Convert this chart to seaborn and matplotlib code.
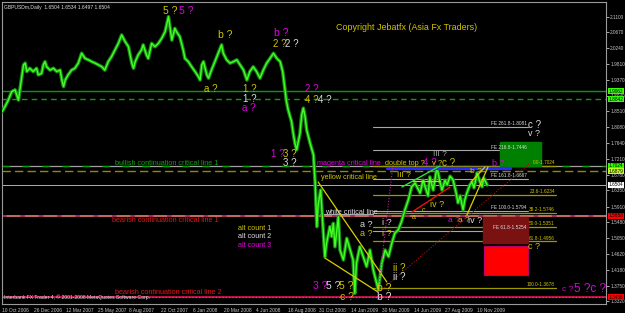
import pandas as pd
import matplotlib
matplotlib.use("Agg")
import matplotlib.pyplot as plt
import matplotlib.transforms as mtrans
from matplotlib.patches import Rectangle
import seaborn as sns

# ---------------- data ----------------
# calendar days after 10 Oct 2006 and GBPUSD price read at that point
price_day = [
    0, 7, 15, 23, 31, 35, 39, 43, 51, 55, 59, 66, 74, 82, 86, 94, 98, 102, 106, 114,
    122, 130, 138, 142, 146, 150, 157, 165, 173, 181, 189, 197, 205, 213, 221, 229, 237, 244, 252, 260,
    268, 276, 284, 292, 300, 308, 312, 316, 323, 331, 335, 343, 347, 355, 363, 371, 379, 387, 395, 399,
    403, 410, 414, 422, 426, 430, 434, 442, 450, 458, 466, 470, 474, 478, 486, 490, 497, 505, 513, 521,
    525, 533, 541, 549, 557, 565, 573, 581, 588, 596, 604, 612, 620, 628, 636, 644, 652, 660, 666, 671,
    675, 679, 687, 691, 695, 699, 707, 711, 715, 719, 723, 731, 739, 743, 747, 750, 756, 759, 766, 770,
    778, 782, 786, 790, 798, 802, 810, 818, 826, 833, 837, 841, 849, 857, 865, 873, 881, 889, 893, 901,
    909, 917, 925, 932, 940, 948, 956, 964, 972, 980, 992, 999, 1004, 1011, 1015, 1023, 1027, 1032, 1039, 1044,
    1051, 1056, 1063, 1070, 1077, 1082, 1087, 1094, 1098, 1103, 1110, 1115, 1120, 1127, 1134, 1139, 1143, 1151,
]
price_close = [
    1.850, 1.864, 1.882, 1.905, 1.910, 1.896, 1.882, 1.914, 1.978, 1.983, 1.960, 1.969, 1.960, 1.969, 1.951, 1.955, 1.978, 1.987, 1.973, 1.964,
    1.969, 1.960, 1.964, 1.937, 1.919, 1.937, 1.951, 1.964, 1.969, 1.983, 2.010, 1.996, 1.992, 1.987, 1.983, 1.978, 1.973, 1.964, 1.987, 2.001,
    2.019, 2.037, 2.060, 2.042, 2.028, 1.983, 1.969, 1.987, 2.005, 2.019, 2.033, 2.005, 1.996, 2.037, 2.028, 2.037, 2.051, 2.069, 2.110, 2.078,
    2.046, 2.078, 2.069, 2.055, 2.037, 2.019, 1.996, 1.987, 1.973, 1.960, 1.946, 1.937, 1.978, 1.987, 1.951, 1.942, 1.964, 1.987, 2.010, 2.033,
    2.010, 1.992, 1.983, 1.987, 1.992, 1.978, 1.964, 1.937, 1.960, 1.973, 1.960, 1.942, 1.964, 1.983, 1.996, 2.010, 1.996, 1.987, 1.960, 1.914,
    1.878, 1.855, 1.823, 1.791, 1.764, 1.746, 1.791, 1.841, 1.860, 1.837, 1.800, 1.764, 1.732, 1.655, 1.536, 1.595, 1.636, 1.582, 1.454, 1.491,
    1.536, 1.509, 1.545, 1.481, 1.563, 1.472, 1.445, 1.504, 1.472, 1.445, 1.354, 1.436, 1.481, 1.454, 1.427, 1.472, 1.417, 1.381, 1.363, 1.436,
    1.472, 1.454, 1.491, 1.518, 1.527, 1.550, 1.582, 1.609, 1.645, 1.655, 1.628, 1.663, 1.645, 1.620, 1.672, 1.636, 1.663, 1.699, 1.658, 1.636,
    1.663, 1.650, 1.674, 1.664, 1.631, 1.601, 1.620, 1.582, 1.609, 1.628, 1.650, 1.658, 1.642, 1.683, 1.658, 1.645, 1.669, 1.650,
]

date_ticks = ["2006-10-10", "2006-12-26", "2007-03-12", "2007-05-25", "2007-08-08",
              "2007-10-22", "2008-01-06", "2008-03-20", "2008-06-04", "2008-08-18",
              "2008-10-31", "2009-01-14", "2009-03-30", "2009-06-14", "2009-08-27",
              "2009-11-10"]
date_tick_labels = ["10 Oct 2006", "26 Dec 2006", "12 Mar 2007", "25 May 2007", "8 Aug 2007",
                    "22 Oct 2007", "6 Jan 2008", "20 Mar 2008", "4 Jun 2008", "18 Aug 2008",
                    "31 Oct 2008", "14 Jan 2009", "30 Mar 2009", "14 Jun 2009", "27 Aug 2009",
                    "10 Nov 2009"]
price_ticks = [2.1100, 2.0670, 2.0240, 1.9810, 1.9370, 1.8940, 1.8510, 1.8080, 1.7640,
               1.7210, 1.6780, 1.6350, 1.5910, 1.5480, 1.5050, 1.4620, 1.4180, 1.3750, 1.3320]

green_level = 1.9062
green_dash_level = 1.8842
bull_level = 1.7024
yellow_level = 1.6879
last_price = 1.6504
bear_level_1 = 1.5658
bear_level_2 = 1.3436

fe_levels = [1.8081, 1.7446, 1.6667, 1.5794, 1.5254]
fe_labels = ["FE 261.8-1.8081", "FE 216.8-1.7446", "FE 161.8-1.6667", "FE 100.0-1.5794", "FE 61.8-1.5254"]
fib_levels = [1.7024, 1.6234, 1.5746, 1.5351, 1.4956, 1.3678]
fib_labels = ["0.0-1.7024", "23.6-1.6234", "38.2-1.5746", "50.0-1.5351", "61.8-1.4956", "100.0-1.3678"]

# ---------------- setup ----------------
T0 = pd.Timestamp("2006-10-10")
def days(s):
    return (pd.Timestamp(s) - T0).days

df = pd.DataFrame({"day": price_day, "price": price_close})

sns.set_style("dark")
plt.rcParams["font.family"] = ["Liberation Sans", "DejaVu Sans"]

YEL = "#d2c400"
WHT = "#dcdcdc"
MAG = "#e000e0"
GRY = "#a8a8a8"
OLV = "#9a9a00"

fig = plt.figure(figsize=(6.25, 3.13), dpi=100, facecolor="black")
ax = fig.add_axes([2 / 625, 9 / 313, 604 / 625, 302 / 313])
ax.set_facecolor("black")
ax.set_xlim(0, 1433)
ax.set_ylim(1.3245, 2.1502)
ax.grid(False)

# full width horizontal levels
ax.axhline(green_level, color="#00a000", lw=1.0, zorder=1)
ax.axhline(green_dash_level, color="#109a10", lw=1.0, ls=(0, (4, 3)), zorder=1)
ax.axhline(bull_level, color="#a0a0a0", lw=0.9, zorder=1)
ax.axhline(bull_level, color="#00a000", lw=0.9, ls=(0, (6, 10)), zorder=1)
ax.axhline(yellow_level, color="#8c8c00", lw=1.0, ls=(0, (6, 3)), zorder=1)
ax.axhline(last_price, color="#b0b0b0", lw=0.7, zorder=1)
ax.axhline(bear_level_1, color="#ff8877", lw=1.1, zorder=1)
ax.axhline(bear_level_1, color="#a0106a", lw=1.1, ls=(0, (3, 9)), zorder=1)
ax.axhline(bear_level_2, color="#c01040", lw=1.4, zorder=1)
ax.axhline(bear_level_2, color="#e040e0", lw=0.8, ls=(0, (1, 2)), zorder=1)

# fibonacci expansion and retracement lines
for lv, lb in zip(fe_levels, fe_labels):
    ax.plot([880, 1248], [lv, lv], color=GRY, lw=0.8, zorder=2)
    ax.text(1245, lv + 0.002, lb, color=WHT, fontsize=3.4, ha="right", va="bottom", zorder=6)
for lv, lb in zip(fib_levels, fib_labels):
    ax.plot([880, 1314], [lv, lv], color=OLV, lw=0.9, zorder=2)
    ax.text(1312, lv + 0.002, lb, color=YEL, fontsize=3.4, ha="right", va="bottom", zorder=6)
ax.plot([754, 880], [1.5700, 1.5700], color=GRY, lw=0.8, zorder=2)

# target boxes
ax.add_patch(Rectangle((1181, 1.7024), 98, 0.0651, color="#008000", zorder=3))
ax.add_patch(Rectangle((1141, 1.4913), 107, 0.0711, color="#7a1212", zorder=3))
ax.add_patch(Rectangle((1143, 1.4038), 105, 0.0793, facecolor="#ff0000", edgecolor="#c00060", lw=0.8, zorder=3))

# price series
sns.lineplot(data=df, x="day", y="price", ax=ax, color="#168c16", lw=2.6, zorder=4, estimator=None, sort=False)
sns.lineplot(data=df, x="day", y="price", ax=ax, color="#44ff22", lw=1.0, zorder=5, estimator=None, sort=False)

# trend lines
ax.plot([913, 1205], [1.6955, 1.6955], color="#2a2aff", lw=2.4, zorder=6)
ax.plot([750, 913], [1.6581, 1.3847], color="#d8d000", lw=0.9, zorder=6)
ax.plot([766, 892], [1.4503, 1.3573], color="#d8d000", lw=0.9, zorder=6)
ax.plot([949, 1039], [1.6444, 1.7018], color="#30e030", lw=1.0, zorder=6)
ax.plot([975, 1039], [1.6608, 1.6608], color="#d8d000", lw=0.9, zorder=6)
ax.plot([973, 1063], [1.5760, 1.6444], color="#ee1010", lw=1.0, zorder=6)
ax.plot([1103, 1153], [1.5679, 1.6991], color="#d8d000", lw=0.9, zorder=6)
ax.plot([1113, 1146], [1.6581, 1.6991], color="#d8d000", lw=0.9, zorder=6)
ax.plot([892, 1253], [1.3546, 1.7100], color="#b01010", lw=0.8, ls=(0, (1, 1.5)), zorder=6)
ax.plot([892, 928], [1.3546, 1.7100], color="#c020a0", lw=0.8, ls=(0, (1, 1.5)), zorder=6)

# wave labels
labels = [
    (382, 2.1256, "5 ?", YEL, 7.5), (420, 2.1256, "5 ?", MAG, 7.5),
    (512, 2.0600, "b ?", YEL, 7.5), (645, 2.0654, "b ?", MAG, 7.5),
    (643, 2.0354, "2 ?", YEL, 7.0), (671, 2.0354, "2 ?", WHT, 7.0),
    (479, 1.9123, "a ?", YEL, 7.0), (572, 1.9123, "1 ?", YEL, 7.0),
    (572, 1.8850, "1 ?", WHT, 7.0), (569, 1.8604, "a ?", MAG, 7.0),
    (719, 1.9123, "2 ?", MAG, 7.0), (719, 1.8823, "4 ?", YEL, 7.0),
    (750, 1.8823, "4 ?", WHT, 7.0),
    (638, 1.7346, "1 ?", MAG, 7.0), (667, 1.7346, "3 ?", YEL, 7.0),
    (667, 1.7100, "3 ?", WHT, 7.0),
    (1248, 1.8139, "c ?", WHT, 7.0), (1248, 1.7893, "v ?", WHT, 6.5),
    (1023, 1.7346, "III ?", GRY, 6.0),
    (999, 1.7100, "4 ?", MAG, 7.0), (1021, 1.7100, "v ?", YEL, 5.5),
    (1044, 1.7100, "c ?", YEL, 7.0), (1163, 1.7100, "b ?", MAG, 6.5),
    (937, 1.6745, "III ?", YEL, 6.0), (1110, 1.6881, "b ?", YEL, 6.0),
    (849, 1.5405, "a ?", WHT, 6.5), (849, 1.5186, "a ?", YEL, 6.5),
    (902, 1.5460, "i ?", WHT, 6.5), (902, 1.5186, "i ?", YEL, 6.5),
    (1015, 1.5979, "iv ?", YEL, 6.5), (996, 1.5788, "c", YEL, 5.0), (973, 1.5597, "a", YEL, 5.0),
    (1058, 1.5515, "a ?", MAG, 6.0), (1082, 1.5515, "a ?", YEL, 6.0),
    (1106, 1.5515, "iv ?", WHT, 6.5),
    (928, 1.4229, "ii ?", YEL, 7.0), (928, 1.3983, "ii ?", WHT, 7.0),
    (738, 1.3737, "3 ?", MAG, 7.5), (769, 1.3737, "5 ?", WHT, 7.5),
    (800, 1.3737, "5 ?", YEL, 7.5), (802, 1.3437, "c ?", YEL, 7.5),
    (890, 1.3682, "b ?", YEL, 7.5), (890, 1.3437, "b ?", WHT, 7.5),
    (1248, 1.4804, "c ?", YEL, 6.5),
    (1328, 1.3655, "c ?", MAG, 6.0), (1358, 1.3655, "5 ?c ?", MAG, 8.5),
]
for x, y, s, c, fs in labels:
    ax.text(x, y, s, color=c, fontsize=fs, ha="left", va="center", zorder=7)

notes = [
    (268, 1.7100, "bullish continuation critical line 1", "#10a010"),
    (747, 1.7100, "magenta critical line", MAG),
    (909, 1.7100, "double top ?", YEL),
    (757, 1.6717, "yellow critical line", YEL),
    (766, 1.5760, "white critical line", WHT),
    (261, 1.5515, "bearish continuation critical line 1", "#e01818"),
    (268, 1.3573, "bearish continuation critical line 2", "#e01818"),
    (560, 1.5296, "alt count 1", YEL),
    (560, 1.5077, "alt count 2", WHT),
    (560, 1.4858, "alt count 3", MAG),
]
for x, y, s, c in notes:
    ax.text(x, y, s, color=c, fontsize=5.2, ha="left", va="center", zorder=7)

ax.text(792, 2.0818, "Copyright Jebatfx (Asia Fx Traders)", color=YEL, fontsize=6.4,
        ha="left", va="center", zorder=7)
ax.text(0.003, 0.99, "GBPUSDm,Daily  1.6504 1.6534 1.6497 1.6504", color=WHT, fontsize=3.6,
        ha="left", va="top", transform=ax.transAxes, zorder=7)
ax.text(0.003, 0.012, "Interbank FX Trader 4, \u00a9 2001-2008 MetaQuotes Software Corp.",
        color=WHT, fontsize=3.6, ha="left", va="bottom", transform=ax.transAxes, zorder=7)

# axes / ticks
for sp in ax.spines.values():
    sp.set_color("#9a9a9a")
    sp.set_linewidth(0.8)
ax.yaxis.tick_right()
ax.set_yticks(price_ticks)
ax.set_yticklabels([f"{v:.4f}" for v in price_ticks])
ax.set_xticks([days(d) for d in date_ticks])
ax.set_xticklabels(date_tick_labels)
for t in ax.get_xticklabels():
    t.set_ha("left")
ax.tick_params(axis="y", colors="#c8c8c8", labelsize=3.4, length=2, width=0.6, pad=1.0)
ax.tick_params(axis="x", colors="#c8c8c8", labelsize=3.5, length=2, width=0.6, pad=0.8)
ax.set_xlabel("")
ax.set_ylabel("")

# price boxes on the axis
trans = mtrans.blended_transform_factory(ax.transAxes, ax.transData)
boxes = [(green_level, "#33ff00", "black"), (green_dash_level, "#33ff00", "black"),
         (bull_level, "#33ff00", "black"), (yellow_level, "#bbff22", "black"),
         (last_price, "white", "black"), (bear_level_1, "#ff0000", "black"),
         (bear_level_2, "#ff0000", "black")]
for lv, bg, fg in boxes:
    ax.text(1.004, lv, f"{lv:.4f}", color=fg, fontsize=3.4, ha="left", va="center",
            transform=trans, clip_on=False, zorder=8,
            bbox=dict(boxstyle="square,pad=0.15", facecolor=bg, edgecolor="none"))

fig.savefig("out.png", dpi=100, facecolor="black")
